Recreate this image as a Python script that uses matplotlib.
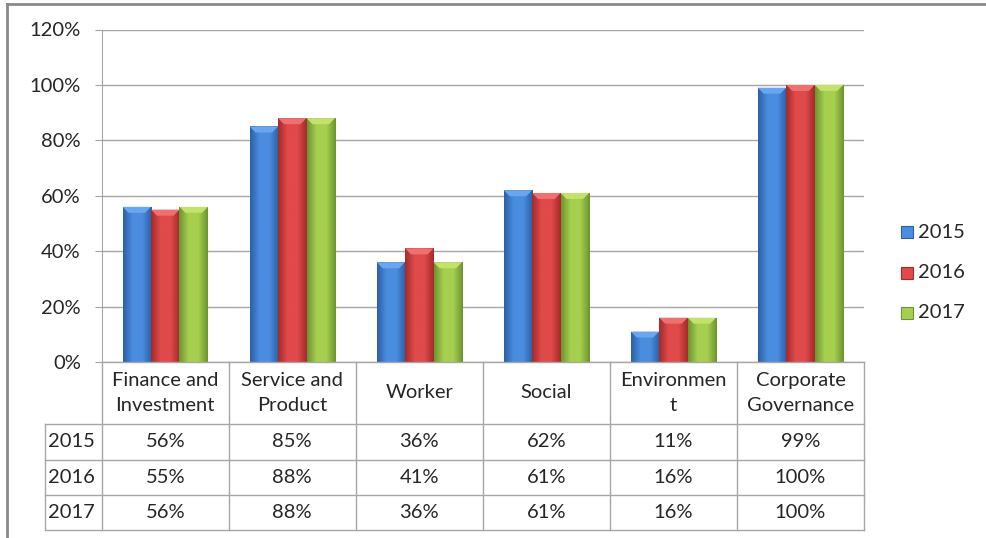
import numpy as np
import matplotlib
matplotlib.use("Agg")
import matplotlib.pyplot as plt
import matplotlib.colors as cls
from matplotlib.patches import Polygon, Rectangle
from matplotlib.lines import Line2D

# dados
categorias = ["Finance and\nInvestment", "Service and\nProduct", "Worker",
              "Social", "Environmen\nt", "Corporate\nGovernance"]
anos = ["2015", "2016", "2017"]
v2015 = [56, 85, 36, 62, 11, 99]
v2016 = [55, 88, 41, 61, 16, 100]
v2017 = [56, 88, 36, 61, 16, 100]
valores = [v2015, v2016, v2017]

# cores (borda escura, centro claro, topo)
cores = [("#2b5fa6", "#4a8ddf", "#6aa6ee"),
         ("#a42b2b", "#e04a4a", "#ee7070"),
         ("#6c9430", "#a7cf4f", "#c2e26c")]
grade = "#a6a6a6"
texto = "#262626"
fonte = "Lato"
fs = 14.5

W, H = 986, 538
fig = plt.figure(figsize = (W/100, H/100), dpi = 100)

def fx(px): return px / W
def fy(py): return 1 - py / H

x0, x1, ytop, ybot = 101.7, 864, 29.5, 362
ax = fig.add_axes([fx(x0), fy(ybot), fx(x1 - x0), fy(ytop) - fy(ybot)])

largura = 0.224
ppu_y = (ybot - ytop) / 120.0   # pixels por unidade
ppu_x = (x1 - x0) / len(categorias)
bev = 6 / ppu_y
bevx = 6 / ppu_x

for k, serie in enumerate(valores):
	esc, clr, topo = cores[k]
	cmap = cls.LinearSegmentedColormap.from_list("g", [esc, clr, clr, esc], N = 64)
	grad = np.linspace(0, 1, 64).reshape(1, -1)
	xs = np.arange(len(categorias)) + (k - 1) * largura
	barras = ax.bar(xs, serie, width = largura, color = clr, edgecolor = "none", zorder = 3)
	for b, v in zip(barras, serie):
		bx = b.get_x()
		im = ax.imshow(grad, cmap = cmap, extent = [bx, bx + largura, 0, v],
						aspect = "auto", zorder = 3.1, interpolation = "bilinear")
		im.set_clip_path(b)
		tri = Polygon([[bx, v], [bx + largura, v], [bx + largura - bevx, v - bev],
						[bx + bevx, v - bev]], closed = True, facecolor = topo,
						edgecolor = "none", zorder = 3.2)
		ax.add_patch(tri)
ax.set_xlim(-0.5, len(categorias) - 0.5)
ax.set_ylim(0, 120)

ax.set_yticks(np.arange(0, 121, 20))
ax.set_yticklabels([f"{t}%" for t in range(0, 121, 20)], fontsize = fs,
					family = fonte, color = texto)
ax.set_xticks([])
ax.yaxis.grid(True, color = grade, linewidth = 1)
ax.set_axisbelow(True)
ax.tick_params(axis = "y", length = 5, color = grade, pad = 10)
for s in ["top", "right", "bottom"]:
	ax.spines[s].set_visible(False)
ax.spines["left"].set_color(grade)

# tabela de dados
cw = (x1 - x0) / len(categorias)
xl = 45
rows = [ybot, 424, 459.5, 495, 530]
lk = dict(color = grade, linewidth = 1, transform = fig.transFigure)
fig.add_artist(Line2D([fx(x0), fx(x1)], [fy(ybot), fy(ybot)], **lk))
for r in rows[1:]:
	fig.add_artist(Line2D([fx(xl), fx(x1)], [fy(r), fy(r)], **lk))
fig.add_artist(Line2D([fx(xl), fx(xl)], [fy(rows[1]), fy(rows[-1])], **lk))
for i in range(len(categorias) + 1):
	xv = x0 + i * cw
	fig.add_artist(Line2D([fx(xv), fx(xv)], [fy(ybot), fy(rows[-1])], **lk))
for i, c in enumerate(categorias):
	fig.text(fx(x0 + (i + 0.5) * cw), fy((rows[0] + rows[1]) / 2), c, ha = "center",
			va = "center", fontsize = fs, family = fonte, color = texto, linespacing = 1.55)
for k, (a, serie) in enumerate(zip(anos, valores)):
	yc = fy((rows[k + 1] + rows[k + 2]) / 2)
	fig.text(fx(xl + 3), yc, a, ha = "left", va = "center", fontsize = fs,
			family = fonte, color = texto)
	for i, v in enumerate(serie):
		fig.text(fx(x0 + (i + 0.5) * cw), yc, f"{v}%", ha = "center", va = "center",
				fontsize = fs, family = fonte, color = texto)

# legenda
for k, a in enumerate(anos):
	yc = 232 + k * 40.5
	fig.add_artist(Rectangle((fx(901), fy(yc + 6)), fx(12), fy(yc - 6) - fy(yc + 6),
					facecolor = cores[k][1], edgecolor = cores[k][0], linewidth = 0.8,
					transform = fig.transFigure))
	fig.text(fx(918), fy(yc), a, ha = "left", va = "center", fontsize = fs,
			family = fonte, color = texto)

# moldura
mk = dict(color = "#8a8a8a", linewidth = 2, transform = fig.transFigure)
fig.add_artist(Line2D([fx(7), 1], [fy(4), fy(4)], **mk))
fig.add_artist(Line2D([fx(7), fx(7)], [fy(4), 0], **mk))

plt.savefig("out.png", dpi = 100)
